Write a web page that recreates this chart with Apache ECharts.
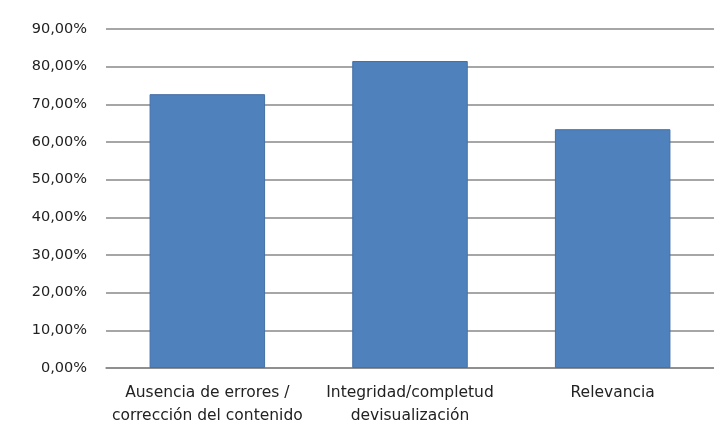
<!DOCTYPE html>
<html>
<head>
<meta charset="utf-8">
<script src="https://cdn.jsdelivr.net/npm/echarts@6/dist/echarts.min.js"></script>
<style>
  html, body { margin: 0; padding: 0; background: #fff; }
  #chart { width: 714px; height: 432px; }
</style>
</head>
<body>
<div id="chart"></div>
<script>
const categories = [
  "Ausencia de errores /\ncorrección del contenido",
  "Integridad/completud\ndevisualización",
  "Relevancia",
];
const values = [72.7, 81.5, 63.4];

const chart = echarts.init(document.getElementById("chart"));

chart.setOption({
  animation: false,
  grid: { left: 106, right: -7, top: 29, bottom: 64, containLabel: false },
  xAxis: {
    type: "category",
    data: categories,
    axisTick: { show: false },
    axisLine: { lineStyle: { color: "#888", width: 1.5 } },
    axisLabel: {
      color: "#222",
      fontFamily: "DejaVu Sans",
      fontSize: 15.5,
      lineHeight: 23,
      margin: 13,
      interval: 0,
    },
  },
  yAxis: {
    type: "value",
    min: 0,
    max: 90,
    interval: 10,
    axisLine: { show: false },
    axisTick: { show: false },
    splitLine: { lineStyle: { color: "#888", width: 1.5 } },
    axisLabel: {
      color: "#222",
      fontFamily: "DejaVu Sans",
      fontSize: 14.5,
      margin: 19,
      // Spanish format: comma decimal
      formatter: (v) => v.toFixed(2).replace(".", ",") + "%",
    },
  },
  series: [
    {
      type: "bar",
      data: values,
      barCategoryGap: "43%",
      itemStyle: { color: "#4F81BD", borderColor: "#4670a6", borderWidth: 1 },
    },
  ],
});
</script>
</body>
</html>
